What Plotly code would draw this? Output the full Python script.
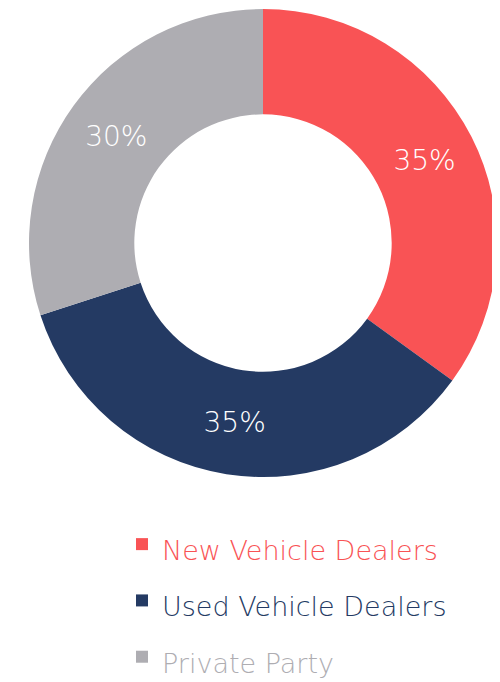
import plotly.graph_objects as go

LABELS = ["New Vehicle Dealers", "Used Vehicle Dealers", "Private Party"]
VALUES = [35, 35, 30]
COLORS = ["#f95355", "#243a63", "#aeadb2"]

FONT = "DejaVu Sans"

legend_labels = [
    f"<span style='color:{c};font-size:27px'>{lab}</span>" for lab, c in zip(LABELS, COLORS)
]

fig = go.Figure(
    go.Pie(
        labels=legend_labels,
        values=VALUES,
        hole=0.55,
        sort=False,
        direction="clockwise",
        rotation=0,
        marker=dict(colors=COLORS, line=dict(width=0)),
        textinfo="percent",
        texttemplate="%{percent:.0%}",
        textposition="inside",
        insidetextorientation="horizontal",
        textfont=dict(color="#ffffff", size=28, family=FONT, weight=200),
        hoverinfo="label+percent",
        domain=dict(x=[0.04, 0.98], y=[0.3123, 0.9985]),
    )
)

# page has an 8px body margin, positions above are compensated for it
fig.update_layout(
    width=500,
    height=682,
    margin=dict(l=0, r=0, t=0, b=0, autoexpand=False),
    paper_bgcolor="#ffffff",
    plot_bgcolor="#ffffff",
    font=dict(family=FONT, weight=200),
    showlegend=True,
    legend=dict(
        x=0.228,
        y=0.2625,
        xanchor="left",
        yanchor="top",
        orientation="v",
        font=dict(size=41, family=FONT, weight=200),
        bgcolor="rgba(0,0,0,0)",
    ),
)

fig.write_html("out.html")
